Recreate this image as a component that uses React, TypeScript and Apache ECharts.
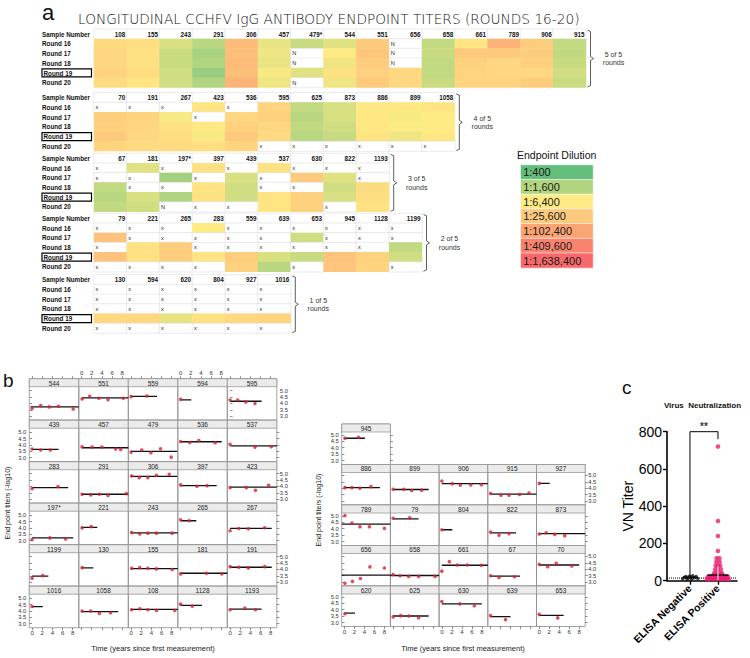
import React, { useEffect, useRef } from 'react';
import * as echarts from 'echarts';

// ---------------- data ----------------
const LEVEL_LABELS = ['1:400', '1:1,600', '1:6,400', '1:25,600', '1:102,400', '1:409,600', '1:1,638,400'];
const LEVEL_COLORS = ['#63BE7B', '#B1D480', '#FFEB84', '#FDCA7D', '#FBA474', '#F9836E', '#F8696B'];
const ROUND_LABELS = ['Round 16', 'Round 17', 'Round 18', 'Round 19', 'Round 20'];

const samples5of5 = ['108', '155', '243', '291', '306', '457', '479*', '544', '551', '656', '658', '661', '789', '906', '915'];
const titers5of5: (number | string)[][] = [
  [2.5, 2.4, 1.5, 1.1, 3.4, 1.7, 1.3, 1.6, 3.0, 'N', 1.2, 2.2, 3.6, 2.9, 1.2],
  [2.6, 2.3, 1.3, 0.9, 3.3, 1.8, 'N', 2.0, 3.1, 'N', 1.3, 3.0, 3.0, 2.9, 1.2],
  [2.6, 2.3, 1.3, 1.0, 3.4, 1.7, 'N', 1.8, 2.9, 'N', 1.2, 2.8, 2.6, 2.8, 1.3],
  [2.7, 2.4, 1.4, 0.7, 3.3, 1.9, 1.6, 2.3, 2.8, 2.6, 1.2, 2.7, 2.6, 2.6, 1.4],
  [2.5, 2.2, 1.4, 1.0, 3.6, 1.8, 'N', 1.8, 3.0, 2.6, 1.3, 2.7, 2.7, 2.9, 1.3],
];
const samples4of5 = ['70', '191', '267', '423', '536', '595', '625', '873', '886', '899', '1058'];
const titers4of5: (number | string)[][] = [
  ['x', 'x', 'x', 2.2, 'x', 2.7, 1.2, 1.5, 2.1, 2.1, 2.2],
  [2.9, 2.7, 1.9, 'x', 2.6, 2.8, 1.1, 1.5, 2.1, 1.9, 2.0],
  [2.8, 2.6, 2.3, 2.1, 2.8, 2.6, 1.2, 1.4, 2.1, 2.0, 2.0],
  [3.0, 2.6, 2.4, 1.9, 3.0, 2.5, 1.1, 1.3, 2.2, 1.8, 2.1],
  [2.7, 2.5, 2.5, 2.4, 2.7, 'x', 'x', 'x', 'x', 'x', 'x'],
];
const samples3of5 = ['67', '181', '197*', '397', '439', '537', '630', '822', '1193'];
const titers3of5: (number | string)[][] = [
  ['x', 1.6, 'x', 2.3, 'x', 2.3, 'x', 'x', 'x'],
  ['x', 'x', 0.8, 'x', 1.5, 'x', 3.0, 1.6, 'x'],
  [1.2, 'x', 'x', 2.2, 1.4, 'x', 'x', 1.4, 2.5],
  [1.1, 1.5, 1.0, 2.3, 1.4, 2.2, 2.8, 1.5, 2.4],
  [1.2, 1.4, 'N', 'x', 'x', 2.2, 2.8, 'x', 2.3],
];
const samples2of5 = ['79', '221', '265', '283', '559', '639', '653', '945', '1128', '1199'];
const titers2of5: (number | string)[][] = [
  ['x', 'x', 'x', 2.0, 'x', 'x', 'x', 'x', 'x', 'x'],
  [3.2, 'x', 'x', 'x', 'x', 'x', 1.4, 'x', 'x', 'x'],
  ['x', 2.3, 2.9, 'x', 'x', 'x', 'x', 'x', 'x', 1.2],
  [3.2, 2.3, 2.9, 2.2, 2.9, 1.5, 1.3, 3.2, 2.8, 1.4],
  ['x', 'x', 'x', 'x', 2.8, 1.1, 'x', 3.1, 2.7, 'x'],
];
const samples1of5 = ['130', '594', '620', '804', '927', '1016'];
const titers1of5: (number | string)[][] = [
  ['x', 'x', 'x', 'x', 'x', 'x'],
  ['x', 'x', 'x', 'x', 'x', 'x'],
  ['x', 'x', 'x', 'x', 'x', 'x'],
  [2.6, 2.6, 1.7, 2.3, 2.6, 2.7],
  ['x', 'x', 'x', 'x', 'x', 'x'],
];
const roundsCaptions = ['5 of 5', '4 of 5', '3 of 5', '2 of 5', '1 of 5'];

const trellisLeftIds = [
  ['544', '551', '559', '594', '595'],
  ['439', '457', '479', '536', '537'],
  ['283', '291', '306', '397', '423'],
  ['197*', '221', '243', '265', '267'],
  ['1199', '130', '155', '181', '191'],
  ['1016', '1058', '108', '1128', '1193'],
];
const trellisRightIds = [
  ['945'],
  ['886', '899', '906', '915', '927'],
  ['789', '79', '804', '822', '873'],
  ['656', '658', '661', '67', '70'],
  ['620', '625', '630', '639', '653'],
];
// [time (years), end point titer (-log10)]
const titerPoints: Record<string, number[][]> = {
  '544': [[0, 3.6], [1.7, 3.83], [3.4, 3.73], [5.2, 3.78], [8.1, 3.57]],
  '551': [[0.1, 4.35], [1.6, 4.56], [3.4, 4.4], [5.2, 4.3], [8.2, 4.4]],
  '559': [[0, 4.53], [3.1, 4.58]],
  '594': [[0, 4.32]],
  '595': [[0, 4.27], [1.5, 4.27], [3.1, 4.12], [4.9, 3.99]],
  '439': [[0, 3.68], [1.7, 3.6], [3.6, 3.6]],
  '457': [[0.1, 3.86], [2.1, 3.83], [4.0, 3.83], [6.7, 3.68], [7.7, 3.65]],
  '479': [[0, 3.44], [2.1, 3.6], [3.9, 3.39], [5.8, 3.7], [7.9, 3.05]],
  '536': [[0, 4.27], [1.8, 4.19], [3.6, 4.35], [6.8, 4.17]],
  '537': [[0, 4.04], [4.9, 3.83], [8.1, 3.86]],
  '283': [[0, 3.83], [5.1, 3.99]],
  '291': [[0.1, 3.39], [1.8, 3.34], [3.5, 3.39], [5.2, 3.29], [8.8, 3.44]],
  '306': [[0.1, 4.82], [1.6, 4.69], [3.3, 4.69], [5.0, 4.87], [7.5, 4.95]],
  '397': [[0, 4.12], [3.2, 4.01], [5.2, 4.06]],
  '423': [[0, 3.91], [3.2, 3.91], [5.0, 3.7], [7.6, 4.09]],
  '197*': [[0, 3.09], [3.5, 3.22], [6.6, 3.14]],
  '221': [[0.1, 4.0], [1.9, 4.1]],
  '243': [[0.1, 3.64], [1.7, 3.54], [3.3, 3.59], [5.0, 3.59], [8.1, 3.59]],
  '265': [[0, 4.64], [1.7, 4.56]],
  '267': [[0, 3.78], [1.7, 3.96], [3.6, 3.94], [6.8, 4.01]],
  '1199': [[0, 3.31], [2.1, 3.52]],
  '130': [[0.1, 4.14]],
  '155': [[0.1, 4.09], [1.7, 4.14], [3.3, 4.09], [5.0, 4.04], [8.1, 3.99]],
  '181': [[0, 3.65], [5.1, 3.7], [8.1, 3.65]],
  '191': [[0, 4.22], [1.7, 4.17], [3.6, 4.12], [6.8, 4.22]],
  '1016': [[0, 4.35]],
  '1058': [[0.1, 3.99], [1.8, 3.99], [3.5, 3.81], [5.7, 3.86]],
  '108': [[0.1, 4.09], [1.7, 4.17], [3.3, 4.09], [5.0, 4.04], [8.6, 4.04]],
  '1128': [[0, 4.53], [2.3, 4.38]],
  '1193': [[0, 4.09], [2.9, 4.22], [5.0, 4.09]],
  '945': [[0.1, 4.74], [2.8, 4.82]],
  '886': [[0.1, 4.05], [1.5, 4.05], [3.1, 4.0], [5.3, 4.13]],
  '899': [[0, 3.92], [2.1, 3.92], [3.7, 3.82], [5.7, 3.85]],
  '906': [[0, 4.56], [2.1, 4.36], [3.7, 4.23], [5.8, 4.26], [7.9, 4.28]],
  '915': [[0, 3.59], [2.1, 3.46], [3.7, 3.46], [5.8, 3.51], [7.7, 3.62]],
  '927': [[0, 4.38]],
  '789': [[0.1, 5.03], [1.5, 4.44], [3.1, 4.15], [5.0, 4.15], [8.0, 4.03]],
  '79': [[0, 4.82], [3.3, 4.85]],
  '804': [[0, 3.92]],
  '822': [[0, 3.74], [1.7, 3.49], [3.7, 3.62]],
  '873': [[0, 3.59], [1.4, 3.69], [3.1, 3.56], [5.1, 3.46]],
  '656': [[0.1, 2.9], [1.6, 3.05], [3.2, 3.28], [5.1, 4.18], [8.0, 4.1]],
  '658': [[0, 3.59], [1.4, 3.49], [3.1, 3.44], [5.1, 3.44], [8.4, 3.44]],
  '661': [[0, 3.85], [1.5, 4.59], [3.1, 4.33], [5.1, 4.33], [7.9, 4.31]],
  '67': [[0, 3.49], [1.7, 3.36], [4.8, 3.41]],
  '70': [[0, 4.38], [1.7, 4.2], [3.4, 4.46], [6.5, 4.26]],
  '620': [[0.1, 3.69]],
  '625': [[0, 3.44], [1.5, 3.54], [3.2, 3.51], [5.1, 3.38]],
  '630': [[0, 4.64], [3.6, 4.46], [6.5, 4.31]],
  '639': [[0, 3.54], [3.0, 3.23]],
  '653': [[0, 3.64], [3.7, 3.36]],
};
// [fitted level, start time, end time]
const fitLines: Record<string, number[]> = {
  '544': [3.73, -0.3, 9.2], '551': [4.43, 0, 9.2], '559': [4.55, 0, 5.1], '594': [4.28, 0, 2.1], '595': [4.17, 0, 6.2],
  '439': [3.65, 0, 5.2], '457': [3.78, 0, 9.2], '479': [3.5, 0, 9.1], '536': [4.25, 0, 8.1], '537': [3.93, 0.1, 9.2],
  '283': [3.91, 0, 7.1], '291': [3.39, 0, 9.2], '306': [4.79, 0, 9.1], '397': [4.06, 0, 7.1], '423': [3.94, 0, 9.2],
  '197*': [3.22, 0, 8.1], '221': [4.05, 0, 3.1], '243': [3.62, 0, 9.2], '265': [4.56, 0, 3.1], '267': [3.96, 0, 8.2],
  '1199': [3.47, 0, 3.2], '130': [4.12, 0, 2.3], '155': [4.06, 0, 9.2], '181': [3.7, 0, 9.2], '191': [4.17, 0, 8.2],
  '1016': [4.33, 0, 2.1], '1058': [3.94, 0, 7.2], '108': [4.12, 0, 9.2], '1128': [4.43, 0, 4.2], '1193': [4.14, 0, 6.2],
  '945': [4.74, 0, 4.1],
  '886': [4.05, 0, 7.1], '899': [3.9, 0, 7.1], '906': [4.36, 0, 9.2], '915': [3.54, 0, 9.2], '927': [4.38, 0, 2.1],
  '789': [4.36, -0.55, 9.2], '79': [4.77, 0, 5.1], '804': [3.92, 0, 2.1], '822': [3.67, 0, 5.1], '873': [3.62, 0, 9.2],
  '656': [3.54, -0.55, 9.2], '658': [3.51, -0.55, 9.2], '661': [4.31, 0, 9.2], '67': [3.46, 0, 5.9], '70': [4.33, 0, 8.0],
  '620': [3.74, 0, 2.1], '625': [3.51, 0, 7.1], '630': [4.46, 0, 8.0], '639': [3.46, 0, 4.0], '653': [3.56, 0, 4.9],
};
const titerTicks = [3.0, 3.5, 4.0, 4.5, 5.0];
const timeTicks = [0, 2, 4, 6, 8];

const vnCategories = ['ELISA Negative', 'ELISA Positive'];
// [group position (1 = negative, 2 = positive, jittered), VN titer]
const vnNegative = [[0.74, 10], [0.8, 18], [0.86, 22], [0.92, 14], [0.98, 24], [1.04, 20], [1.1, 26], [1.16, 16], [1.22, 22], [1.28, 12], [0.9, 6], [1.06, 8]];
const vnPositive = [
  [2, 720], [2, 320], [2, 240], [2, 160], [1.95, 120], [2.05, 120], [1.94, 100], [2.06, 100],
  [1.92, 80], [2, 80], [2.08, 80], [1.9, 60], [2, 60], [2.1, 60], [1.86, 40], [1.95, 40], [2.05, 40], [2.14, 40],
  [1.64, 20], [1.7, 24], [1.76, 20], [1.82, 26], [1.88, 22], [1.94, 28], [2.0, 30], [2.06, 26], [2.12, 22],
  [2.18, 28], [2.24, 20], [2.3, 24], [2.36, 20],
  [1.6, 10], [1.66, 8], [1.72, 12], [1.78, 10], [1.84, 8], [1.9, 12], [1.96, 10], [2.02, 8], [2.08, 12],
  [2.14, 10], [2.2, 8], [2.26, 12], [2.32, 10], [2.38, 8],
];
const vnNegativeMean = 18;
const vnNegativeSd = [8, 28];
const vnPositiveMean = 30;
const vnPositiveSd = [4, 78];
const vnDetectionLimit = 14;
const vnBracket = [[1, 28], [1, 800], [2, 800], [2, 760]];

// ---------------- option ----------------
const FONT = 'Liberation Sans, Arial, sans-serif';
const BLANK = -1;

function heatData(samples: string[], titers: (number | string)[][]) {
  const d: any[] = [];
  samples.forEach((s, i) => {
    d.push({
      value: [i, 0, BLANK],
      label: { show: true, formatter: s, position: 'insideRight', distance: 2, fontWeight: 'bold', fontSize: 6.3, color: '#111', fontFamily: FONT },
      itemStyle: { borderColor: '#d9d9d9', borderWidth: 0.5 },
    });
  });
  titers.forEach((row, r) =>
    row.forEach((v, i) => {
      if (typeof v === 'number') d.push({ value: [i, r + 1, v] });
      else
        d.push({
          value: [i, r + 1, BLANK],
          label: { show: true, formatter: v, position: 'insideLeft', distance: 2, fontSize: 5.6, color: '#222', fontFamily: FONT },
          itemStyle: { borderColor: '#d9d9d9', borderWidth: 0.5 },
        });
    })
  );
  return d;
}

function buildOption() {
  const grid: any[] = [];
  const xAxis: any[] = [];
  const yAxis: any[] = [];
  const series: any[] = [];
  const graphic: any[] = [];

  // ---- panel a: heatmap tables ----
  const blocks = [
    { samples: samples5of5, titers: titers5of5, top: 29.2 },
    { samples: samples4of5, titers: titers4of5, top: 92.9 },
    { samples: samples3of5, titers: titers3of5, top: 153.5 },
    { samples: samples2of5, titers: titers2of5, top: 213.5 },
    { samples: samples1of5, titers: titers1of5, top: 274.9 },
  ];
  const CELL_W = 32.8;
  const ROW_H = 9.7;
  const TABLE_LEFT = 94;
  const heatSeries: number[] = [];
  blocks.forEach((b, bi) => {
    const gi = grid.length;
    const w = b.samples.length * CELL_W;
    grid.push({ left: TABLE_LEFT, top: b.top, width: w, height: ROW_H * 6, outerBoundsMode: 'none' });
    xAxis.push({ type: 'category', gridIndex: gi, data: b.samples, show: false });
    yAxis.push({
      type: 'category', gridIndex: gi, data: ['Sample Number', ...ROUND_LABELS], inverse: true,
      axisLine: { show: false }, axisTick: { show: false }, splitLine: { show: false },
      axisLabel: {
        align: 'left', margin: 52, fontWeight: 'bold', fontSize: 6.3, color: '#111', fontFamily: FONT,
        formatter: (v: string) => (v === 'Round 19' ? `{box|${v}}` : v),
        rich: {
          box: { borderColor: '#000', borderWidth: 1.2, width: 48, height: 7.5, lineHeight: 8, padding: [0.5, 0, 0, 1.5], fontWeight: 'bold', fontSize: 6.3, color: '#111', fontFamily: FONT },
        },
      },
    });
    heatSeries.push(series.length);
    series.push({
      type: 'heatmap', xAxisIndex: xAxis.length - 1, yAxisIndex: yAxis.length - 1,
      data: heatData(b.samples, b.titers), itemStyle: { borderWidth: 0 }, label: { show: false },
      emphasis: { disabled: true }, silent: true,
    });
    const bx = TABLE_LEFT + w + 1.5;
    const top = b.top + 1;
    const bot = b.top + ROW_H * 6 - 0.5;
    const mid = (top + bot) / 2;
    graphic.push({
      type: 'polyline', silent: true,
      shape: { points: [[bx, top], [bx + 3, top + 1.2], [bx + 3, mid - 2], [bx + 6, mid], [bx + 3, mid + 2], [bx + 3, bot - 1.2], [bx, bot]] },
      style: { stroke: '#333', lineWidth: 0.8, fill: null },
    });
    graphic.push({
      type: 'text', x: bx + 26, y: mid, silent: true,
      style: { text: roundsCaptions[bi] + '\nrounds', fill: '#333333', fontSize: 7, fontFamily: FONT, textAlign: 'center', textVerticalAlign: 'middle', lineHeight: 8.5 },
    });
  });

  // legend as heatmap
  {
    const gi = grid.length;
    grid.push({ left: 520.7, top: 165, width: 72.3, height: 14.7 * 7, outerBoundsMode: 'none' });
    xAxis.push({ type: 'category', gridIndex: gi, data: ['dilution'], show: false });
    yAxis.push({ type: 'category', gridIndex: gi, data: LEVEL_LABELS, inverse: true, show: false });
    heatSeries.push(series.length);
    series.push({
      type: 'heatmap', xAxisIndex: xAxis.length - 1, yAxisIndex: yAxis.length - 1, silent: true,
      emphasis: { disabled: true }, itemStyle: { borderColor: '#ffffff', borderWidth: 0.6 },
      data: LEVEL_LABELS.map((l, i) => ({
        value: [0, i, i],
        label: { show: true, formatter: l, position: 'insideLeft', distance: 3, fontSize: 11, color: '#1a1a1a', fontFamily: FONT },
      })),
    });
    graphic.push({
      type: 'text', x: 517, y: 154.7, silent: true,
      style: { text: 'Endpoint Dilution', fill: '#111', fontSize: 10.5, fontFamily: FONT, textAlign: 'left', textVerticalAlign: 'middle' },
    });
  }

  graphic.push({ type: 'text', x: 42, y: 12, silent: true, style: { text: 'a', fill: '#111', fontSize: 22, fontFamily: FONT, textAlign: 'left', textVerticalAlign: 'middle' } });
  graphic.push({
    type: 'text', x: 78, y: 18.5, silent: true,
    style: { text: 'LONGITUDINAL CCHFV IgG ANTIBODY ENDPOINT TITERS (ROUNDS 16-20)', fill: '#111', fontSize: 13.7, fontFamily: 'DejaVu Sans, sans-serif', fontWeight: 300, textAlign: 'left', textVerticalAlign: 'middle' },
  });

  // ---- panel b: trellis ----
  const Y_MIN = 2.69;
  const PX_PER_UNIT = 12.8;
  const STRIP_H = 8;
  const X_MIN = -0.55;
  const X_MAX = 9.2;
  const tickStyle = { color: '#444', width: 0.6 };
  const xAxisCfg = (gi: number, pos: string, mode: string) => ({
    type: 'value', gridIndex: gi, position: pos, min: X_MIN, max: X_MAX,
    axisLine: { show: false }, splitLine: { show: false },
    axisTick: { show: mode !== 'none', customValues: timeTicks, length: 2.5, lineStyle: tickStyle },
    axisLabel: { show: mode === 'labels', customValues: timeTicks, fontSize: 6, color: '#333', margin: 2.5, fontFamily: FONT },
  });
  const yAxisCfg = (gi: number, pos: string, mode: string, yMax: number) => ({
    type: 'value', gridIndex: gi, position: pos, min: Y_MIN, max: yMax,
    axisLine: { show: false }, splitLine: { show: false },
    axisTick: { show: mode !== 'none', customValues: titerTicks, length: 2.5, lineStyle: tickStyle },
    axisLabel: { show: mode === 'labels', customValues: titerTicks, fontSize: 5.8, color: '#333', margin: 3, fontFamily: FONT, formatter: (v: number) => v.toFixed(1) },
  });
  const addPanel = (id: string, x: number, y: number, w: number, h: number, f: any) => {
    const gi = grid.length;
    grid.push({ left: x, top: y, width: w, height: h, show: true, borderColor: '#8c8c8c', borderWidth: 0.8, outerBoundsMode: 'none' });
    const yMax = Y_MIN + h / PX_PER_UNIT;
    const xi = xAxis.length;
    xAxis.push(xAxisCfg(gi, 'bottom', f.bottom));
    if (f.top !== 'none') xAxis.push(xAxisCfg(gi, 'top', f.top));
    const yi = yAxis.length;
    yAxis.push(yAxisCfg(gi, 'left', f.left, yMax));
    if (f.right !== 'none') yAxis.push(yAxisCfg(gi, 'right', f.right, yMax));
    const fit = fitLines[id];
    series.push({
      type: 'line', xAxisIndex: xi, yAxisIndex: yi, data: [[fit[1], fit[0]], [fit[2], fit[0]]],
      symbol: 'none', lineStyle: { color: '#111', width: 1.3 }, silent: true, z: 2,
    });
    series.push({
      type: 'scatter', xAxisIndex: xi, yAxisIndex: yi, data: titerPoints[id],
      symbolSize: 3.6, itemStyle: { color: '#d62031' }, silent: true, z: 3,
    });
    graphic.push({ type: 'rect', z: 5, silent: true, shape: { x, y, width: w, height: STRIP_H }, style: { fill: '#ebebeb', stroke: '#8c8c8c', lineWidth: 0.7 } });
    graphic.push({
      type: 'text', z: 6, silent: true, x: x + w / 2, y: y + STRIP_H / 2 + 0.3,
      style: { text: id, fontSize: 6.5, fontFamily: FONT, fill: '#222', textAlign: 'center', textVerticalAlign: 'middle' },
    });
  };

  const LX0 = 29.3, LCW = 49.5, LY0 = 378.7, LRH = 41.5;
  trellisLeftIds.forEach((row, r) =>
    row.forEach((id, c) => {
      addPanel(id, LX0 + c * LCW, LY0 + r * LRH, LCW, LRH, {
        top: r === 0 ? (c % 2 === 1 ? 'labels' : 'ticks') : 'none',
        bottom: r === trellisLeftIds.length - 1 ? (c % 2 === 0 ? 'labels' : 'ticks') : 'none',
        left: c === 0 ? (r % 2 === 1 ? 'labels' : 'ticks') : 'none',
        right: c === 4 ? (r % 2 === 0 ? 'labels' : 'ticks') : 'none',
      });
    })
  );
  const RX0 = 341.7, RCW = 48.7, RY0 = 424, RRH = 40.5;
  trellisRightIds.forEach((row, r) =>
    row.forEach((id, c) => {
      const single = row.length === 1;
      addPanel(id, RX0 + c * RCW, RY0 + r * RRH, RCW, RRH, {
        top: 'none',
        bottom: r === trellisRightIds.length - 1 ? (c % 2 === 0 ? 'labels' : 'ticks') : 'none',
        left: c === 0 ? (r % 2 === 0 ? 'labels' : 'ticks') : 'none',
        right: single ? 'ticks' : c === 4 ? (r % 2 === 1 ? 'labels' : 'ticks') : 'none',
      });
    })
  );
  const axisTitle = { fill: '#222', fontSize: 7, fontFamily: FONT, textAlign: 'center', textVerticalAlign: 'middle' };
  graphic.push({ type: 'text', x: 7, y: 503, rotation: Math.PI / 2, silent: true, style: { ...axisTitle, text: 'End point titers (-log10)' } });
  graphic.push({ type: 'text', x: 318, y: 510, rotation: Math.PI / 2, silent: true, style: { ...axisTitle, text: 'End point titers (-log10)' } });
  graphic.push({ type: 'text', x: 153, y: 648, silent: true, style: { ...axisTitle, fontSize: 7.5, text: 'Time (years since first measurement)' } });
  graphic.push({ type: 'text', x: 463, y: 648, silent: true, style: { ...axisTitle, fontSize: 7.5, text: 'Time (years since first measurement)' } });
  graphic.push({ type: 'text', x: 3, y: 380.6, silent: true, style: { text: 'b', fill: '#111', fontSize: 19, fontFamily: FONT, textAlign: 'left', textVerticalAlign: 'middle' } });

  // ---- panel c ----
  {
    const gi = grid.length;
    grid.push({ left: 667, top: 431.7, width: 70, height: 149, outerBoundsMode: 'none' });
    xAxis.push({
      type: 'value', gridIndex: gi, min: 0.18, max: 2.68, splitLine: { show: false },
      axisLine: { show: true, onZero: false, lineStyle: { color: '#000', width: 1.6 } },
      axisTick: { show: true, customValues: [1, 2], length: 4, lineStyle: { color: '#000', width: 1.4 } },
      axisLabel: { customValues: [1, 2], formatter: (v: number) => vnCategories[Math.round(v) - 1], rotate: 45, fontSize: 10.5, fontWeight: 'bold', color: '#000', margin: 6, fontFamily: FONT },
    });
    yAxis.push({
      type: 'value', gridIndex: gi, min: 0, max: 800, interval: 200, splitLine: { show: false },
      axisLine: { show: true, lineStyle: { color: '#000', width: 1.6 } },
      axisTick: { show: true, length: 4, lineStyle: { color: '#000', width: 1.4 } },
      axisLabel: { fontSize: 14, color: '#000', margin: 5, fontFamily: FONT },
      name: 'VN Titer', nameLocation: 'middle', nameGap: 28, nameTextStyle: { fontSize: 14, color: '#000', fontFamily: FONT },
    });
    const xi = xAxis.length - 1;
    const yi = yAxis.length - 1;
    const seg = (data: number[][], color: string, width: number, type = 'solid', z = 4) => ({
      type: 'line', xAxisIndex: xi, yAxisIndex: yi, data, symbol: 'none', clip: false, silent: true, z,
      lineStyle: { color, width, type },
    });
    series.push(seg([[0.18, vnDetectionLimit], [2.68, vnDetectionLimit]], '#000', 1, 'dotted', 2));
    series.push({ type: 'scatter', xAxisIndex: xi, yAxisIndex: yi, data: vnNegative, symbolSize: 3.5, itemStyle: { color: '#111' }, silent: true, z: 3 });
    series.push({ type: 'scatter', xAxisIndex: xi, yAxisIndex: yi, data: vnPositive, symbolSize: 4.6, itemStyle: { color: '#ec1e72' }, silent: true, z: 3 });
    series.push(seg([[0.74, vnNegativeMean], [1.26, vnNegativeMean]], '#000', 1.3));
    series.push(seg([[1, vnNegativeSd[0]], [1, vnNegativeSd[1]]], '#000', 1));
    series.push(seg([[1.62, vnPositiveMean], [2.38, vnPositiveMean]], '#000', 1.3));
    series.push(seg([[2, vnPositiveSd[0]], [2, vnPositiveSd[1]]], '#ffffff', 1, 'solid', 5));
    series.push(seg(vnBracket, '#000', 1));
    series.push({
      type: 'scatter', xAxisIndex: xi, yAxisIndex: yi, data: [[1.5, 800]], symbolSize: 0, silent: true, clip: false,
      label: { show: true, formatter: '**', position: 'top', distance: 0, fontSize: 10, fontWeight: 'bold', color: '#000', fontFamily: FONT },
    });
    graphic.push({ type: 'text', x: 702.5, y: 405, silent: true, style: { text: 'Virus  Neutralization', fill: '#111', fontSize: 8, fontWeight: 'bold', fontFamily: FONT, textAlign: 'center', textVerticalAlign: 'middle' } });
    graphic.push({ type: 'text', x: 622, y: 387, silent: true, style: { text: 'c', fill: '#111', fontSize: 19, fontFamily: FONT, textAlign: 'left', textVerticalAlign: 'middle' } });
  }

  return {
    animation: false,
    backgroundColor: '#ffffff',
    textStyle: { fontFamily: FONT },
    grid, xAxis, yAxis, series, graphic,
    visualMap: [
      {
        // blanks (value -1) fall outside the selected range and are drawn white
        type: 'continuous', show: false, min: BLANK, max: 6, range: [-0.5, 6], dimension: 2, seriesIndex: heatSeries,
        inRange: { color: [LEVEL_COLORS[0], ...LEVEL_COLORS] }, outOfRange: { color: '#ffffff' },
      },
    ],
  };
}

export default function App() {
  const ref = useRef<HTMLDivElement>(null);
  useEffect(() => {
    if (!ref.current) return;
    const chart = echarts.init(ref.current, undefined, { renderer: 'svg' });
    chart.setOption(buildOption() as any);
    return () => chart.dispose();
  }, []);
  return <div ref={ref} style={{ position: 'absolute', left: 0, top: 0, width: 750, height: 658, background: '#fff' }} />;
}
